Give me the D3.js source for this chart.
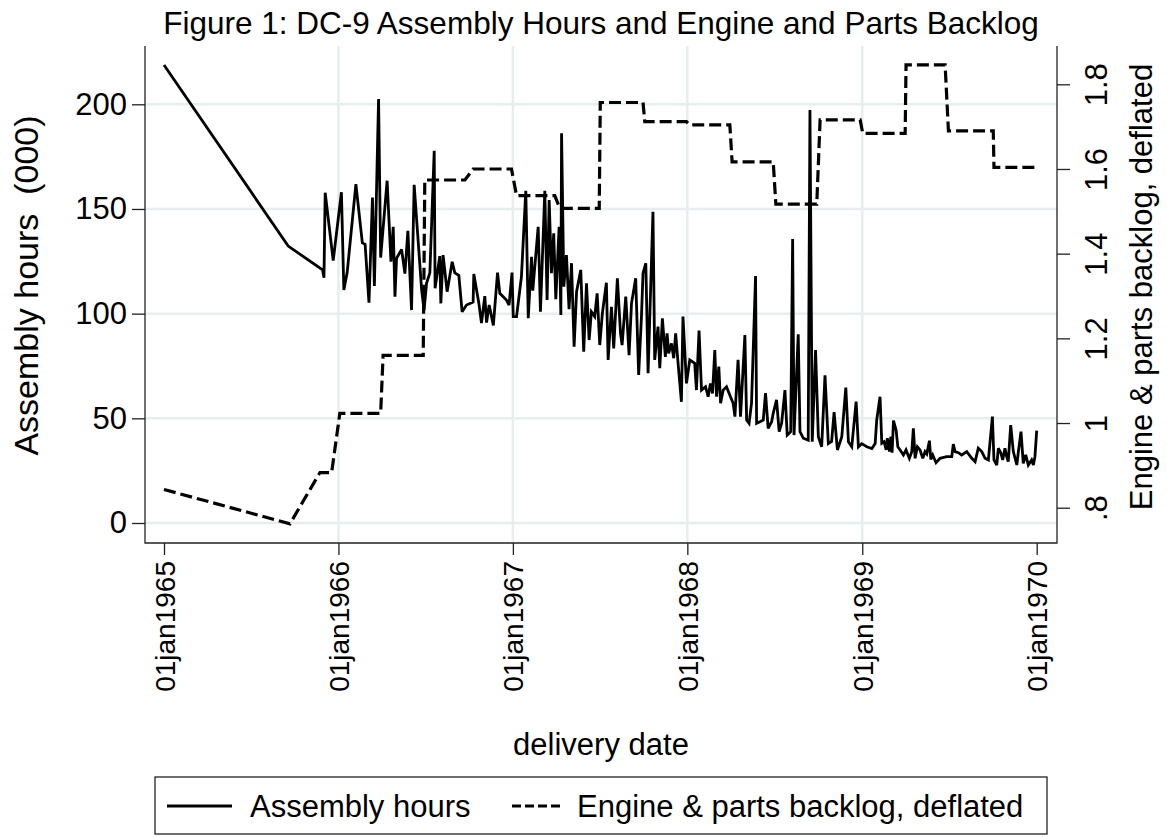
<!DOCTYPE html>
<html>
<head>
<meta charset="utf-8">
<script src="https://cdn.jsdelivr.net/npm/d3@7"></script>
<style>
  body { margin: 0; background: #fff; }
  svg text { font-family: "Liberation Sans", Arial, sans-serif; fill: #000; }
</style>
</head>
<body>
<div id="plot"></div>
<script>

// delivery date (decimal year) and assembly hours (000) per aircraft
const asmYear = [
  1965.000, 1965.712, 1965.909, 1965.917, 1965.924, 1965.970, 1966.017, 1966.031, 1966.050, 1966.100,
  1966.137, 1966.153, 1966.175, 1966.195, 1966.206, 1966.230, 1966.242, 1966.279, 1966.301, 1966.314,
  1966.324, 1966.333, 1966.362, 1966.381, 1966.398, 1966.419, 1966.434, 1966.477, 1966.491, 1966.505,
  1966.524, 1966.549, 1966.554, 1966.581, 1966.587, 1966.600, 1966.623, 1966.652, 1966.667, 1966.690,
  1966.709, 1966.734, 1966.772, 1966.776, 1966.805, 1966.820, 1966.839, 1966.849, 1966.864, 1966.888,
  1966.912, 1966.925, 1966.963, 1966.978, 1966.995, 1967.002, 1967.021, 1967.049, 1967.074, 1967.088,
  1967.107, 1967.114, 1967.145, 1967.158, 1967.183, 1967.196, 1967.208, 1967.221, 1967.234, 1967.246,
  1967.265, 1967.275, 1967.279, 1967.292, 1967.307, 1967.322, 1967.336, 1967.351, 1967.365, 1967.389,
  1967.406, 1967.422, 1967.437, 1967.450, 1967.469, 1967.483, 1967.498, 1967.513, 1967.536, 1967.546,
  1967.565, 1967.578, 1967.599, 1967.617, 1967.626, 1967.647, 1967.666, 1967.680, 1967.704, 1967.721,
  1967.737, 1967.746, 1967.762, 1967.775, 1967.803, 1967.813, 1967.832, 1967.842, 1967.857, 1967.874,
  1967.884, 1967.893, 1967.909, 1967.922, 1967.933, 1967.947, 1967.966, 1967.975, 1967.995, 1968.014,
  1968.042, 1968.052, 1968.067, 1968.081, 1968.104, 1968.119, 1968.132, 1968.144, 1968.157, 1968.167,
  1968.180, 1968.190, 1968.205, 1968.224, 1968.239, 1968.262, 1968.272, 1968.290, 1968.304, 1968.329,
  1968.339, 1968.353, 1968.367, 1968.390, 1968.396, 1968.415, 1968.434, 1968.447, 1968.462, 1968.482,
  1968.491, 1968.510, 1968.525, 1968.539, 1968.558, 1968.571, 1968.591, 1968.602, 1968.610, 1968.634,
  1968.644, 1968.663, 1968.691, 1968.701, 1968.714, 1968.733, 1968.749, 1968.768, 1968.787, 1968.806,
  1968.825, 1968.839, 1968.858, 1968.883, 1968.906, 1968.921, 1968.940, 1968.965, 1968.978, 1968.997,
  1969.026, 1969.055, 1969.074, 1969.083, 1969.102, 1969.112, 1969.125, 1969.137, 1969.144, 1969.156,
  1969.164, 1969.171, 1969.179, 1969.194, 1969.204, 1969.217, 1969.236, 1969.251, 1969.270, 1969.284,
  1969.293, 1969.303, 1969.316, 1969.331, 1969.347, 1969.360, 1969.370, 1969.385, 1969.393, 1969.404,
  1969.423, 1969.446, 1969.484, 1969.513, 1969.522, 1969.532, 1969.551, 1969.570, 1969.599, 1969.628,
  1969.647, 1969.665, 1969.685, 1969.704, 1969.723, 1969.746, 1969.755, 1969.771, 1969.780, 1969.794,
  1969.805, 1969.818, 1969.828, 1969.837, 1969.851, 1969.866, 1969.886, 1969.895, 1969.910, 1969.923,
  1969.937, 1969.952, 1969.971, 1969.981, 1969.990, 1970.000
];

const asmHours = [
  218.8, 132.3, 120.9, 117.2, 157.8, 125.3, 158.0, 111.3, 119.6, 161.9,
  133.8, 133.1, 105.2, 155.5, 113.2, 202.5, 126.8, 163.5, 124.8, 141.5,
  108.1, 126.4, 130.7, 119.1, 139.6, 101.7, 161.5, 111.3, 101.7, 114.5,
  119.5, 177.8, 112.1, 127.5, 104.9, 128.0, 110.5, 124.8, 119.5, 118.3,
  100.9, 104.1, 105.5, 118.9, 104.9, 95.5, 108.4, 95.7, 104.1, 94.4,
  119.6, 109.7, 106.5, 104.1, 119.6, 98.6, 98.6, 117.7, 158.7, 97.8,
  127.2, 111.0, 141.5, 100.9, 158.7, 106.5, 154.3, 119.3, 138.4, 106.9,
  141.5, 99.4, 186.2, 112.9, 128.0, 102.1, 124.1, 84.2, 110.5, 120.9,
  81.8, 114.5, 87.4, 100.9, 98.6, 109.7, 85.0, 100.2, 114.8, 77.9,
  103.3, 83.4, 116.9, 90.6, 85.0, 108.1, 80.2, 104.9, 116.9, 70.7,
  98.6, 119.3, 124.1, 71.5, 148.7, 77.9, 93.8, 73.9, 97.8, 79.4,
  90.6, 81.0, 85.8, 78.7, 90.6, 76.3, 57.9, 98.6, 66.7, 77.9,
  76.3, 63.5, 91.9, 63.5, 65.1, 60.3, 66.7, 61.9, 82.6, 60.3,
  74.7, 57.2, 63.5, 65.1, 61.9, 57.2, 50.8, 77.9, 50.8, 89.8,
  49.2, 47.6, 57.2, 118.0, 47.6, 48.4, 49.2, 62.0, 45.2, 48.4,
  52.4, 58.8, 43.6, 47.6, 63.5, 42.0, 43.6, 135.7, 42.0, 90.1,
  43.6, 40.5, 39.6, 197.3, 38.8, 82.6, 41.2, 36.4, 70.5, 38.0,
  39.0, 53.0, 34.9, 41.2, 64.7, 38.8, 36.4, 58.0, 36.4, 37.9,
  36.4, 35.6, 38.0, 49.2, 60.3, 38.1, 38.8, 34.9, 40.5, 34.1,
  41.2, 33.6, 48.9, 44.4, 36.4, 34.9, 32.5, 34.9, 30.9, 34.1,
  45.2, 30.9, 36.4, 34.9, 30.9, 34.1, 33.0, 39.3, 30.4, 32.5,
  28.8, 30.9, 31.7, 31.7, 37.7, 34.1, 33.6, 32.5, 34.1, 30.9,
  29.3, 35.7, 34.1, 30.9, 30.1, 50.8, 30.1, 27.7, 35.7, 33.6,
  30.1, 35.7, 31.7, 29.3, 46.8, 34.1, 27.7, 34.1, 43.6, 28.5,
  32.5, 27.7, 30.1, 27.7, 31.7, 44.1
];

// engine & parts backlog, deflated (quarterly steps, corner points)
const backlogYear = [
  1965.000, 1965.722, 1965.894, 1965.961, 1966.008, 1966.242, 1966.256, 1966.486, 1966.495, 1966.725,
  1966.772, 1966.992, 1967.021, 1967.240, 1967.269, 1967.495, 1967.501, 1967.746, 1967.756, 1967.995,
  1968.014, 1968.243, 1968.256, 1968.491, 1968.506, 1968.740, 1968.759, 1968.988, 1969.003, 1969.246,
  1969.251, 1969.475, 1969.494, 1969.751, 1969.755, 1970.000
];

const backlogValue = [
  0.843, 0.762, 0.883, 0.883, 1.023, 1.023, 1.160, 1.160, 1.574, 1.574,
  1.600, 1.600, 1.537, 1.537, 1.507, 1.507, 1.757, 1.757, 1.712, 1.712,
  1.704, 1.704, 1.617, 1.617, 1.517, 1.517, 1.716, 1.716, 1.684, 1.684,
  1.846, 1.846, 1.690, 1.690, 1.604, 1.604
];

const yearTicks = [1965, 1966, 1967, 1968, 1969, 1970];
const gridYears = [1966, 1967, 1968, 1969];
const hoursTicks = [0, 50, 100, 150, 200];
const backlogTicks = [0.8, 1, 1.2, 1.4, 1.6, 1.8];
const backlogLabels = [".8", "1", "1.2", "1.4", "1.6", "1.8"];

const w = 1167, h = 837;
const margin = {top: 46, left: 145, right: 110, bottom: 294};
const innerWidth = w - margin.left - margin.right;
const innerHeight = h - margin.top - margin.bottom;

// decimal year -> Date
function yearToDate(y) {
  const y0 = Math.floor(y);
  const t0 = Date.UTC(y0, 0, 1), t1 = Date.UTC(y0 + 1, 0, 1);
  return new Date(t0 + (y - y0) * (t1 - t0));
}

const asmData = asmYear.map((d, i) => ({date: yearToDate(d), value: asmHours[i]}));
const backlogData = backlogYear.map((d, i) => ({date: yearToDate(d), value: backlogValue[i]}));

const xScale = d3.scaleUtc()
  .domain([yearToDate(1965), yearToDate(1970)])
  .range([19, 891.7]);

const yScale = d3.scaleLinear()
  .domain([0, 200])
  .range([477, 58.3]);

const bScale = d3.scaleLinear()
  .domain([0.8, 1.8])
  .range([461.7, 38.3]);

const gridColor = "#e6eef0";
const axisColor = "#222";

const svg = d3.select("div#plot")
  .append("svg")
  .attr("width", w)
  .attr("height", h);

svg.append("rect")
  .attr("width", w)
  .attr("height", h)
  .attr("fill", "#fff");

// title
svg.append("text")
  .attr("x", 601)
  .attr("y", 34)
  .attr("text-anchor", "middle")
  .attr("font-size", 31.5)
  .text("Figure 1: DC-9 Assembly Hours and Engine and Parts Backlog");

const plot = svg.append("g")
  .attr("id", "plotarea")
  .attr("transform", `translate( ${margin.left}, ${margin.top} )`);

// gridlines
plot.append("g")
  .selectAll("line")
  .data(hoursTicks)
  .enter()
  .append("line")
  .attr("x1", 0)
  .attr("x2", innerWidth)
  .attr("y1", d => yScale(d))
  .attr("y2", d => yScale(d))
  .attr("stroke", gridColor)
  .attr("stroke-width", 2.5);

plot.append("g")
  .selectAll("line")
  .data(gridYears)
  .enter()
  .append("line")
  .attr("x1", d => xScale(yearToDate(d)))
  .attr("x2", d => xScale(yearToDate(d)))
  .attr("y1", 0)
  .attr("y2", innerHeight)
  .attr("stroke", gridColor)
  .attr("stroke-width", 2.5);

// x-axis
const xAxis = d3.axisBottom(xScale)
  .tickValues(yearTicks.map(yearToDate))
  .tickSize(12)
  .tickSizeOuter(0)
  .tickFormat(d => "01jan" + d.getUTCFullYear());

plot.append("g")
  .attr("id", "xaxis")
  .attr("transform", `translate(0, ${innerHeight})`)
  .call(xAxis)
  .call(g => g.select(".domain").remove())
  .call(g => g.selectAll("line").attr("stroke", axisColor).attr("stroke-width", 1.3))
  .selectAll("text")
  .attr("font-size", 28)
  .attr("font-family", null)
  .attr("text-anchor", "end")
  .attr("x", -18)
  .attr("y", 0)
  .attr("dy", "0.36em")
  .attr("transform", "rotate(-90)");

// left y-axis
const yAxis = d3.axisLeft(yScale)
  .tickValues(hoursTicks)
  .tickSize(13)
  .tickSizeOuter(0)
  .tickPadding(5);

plot.append("g")
  .attr("id", "yaxis")
  .call(yAxis)
  .call(g => g.select(".domain").remove())
  .call(g => g.selectAll("line").attr("stroke", axisColor).attr("stroke-width", 1.3))
  .selectAll("text")
  .attr("font-size", 31)
  .attr("font-family", null);

// right y-axis
const bAxis = d3.axisRight(bScale)
  .tickValues(backlogTicks)
  .tickSize(13)
  .tickSizeOuter(0)
  .tickFormat((d, i) => backlogLabels[i]);

plot.append("g")
  .attr("id", "baxis")
  .attr("transform", `translate(${innerWidth}, 0)`)
  .call(bAxis)
  .call(g => g.select(".domain").remove())
  .call(g => g.selectAll("line").attr("stroke", axisColor).attr("stroke-width", 1.3))
  .selectAll("text")
  .attr("font-size", 31)
  .attr("font-family", null)
  .attr("text-anchor", "middle")
  .attr("x", 0)
  .attr("dy", 0)
  .attr("transform", "translate(50, 0) rotate(-90)");

// axis lines
plot.append("path")
  .attr("d", `M0,0 V${innerHeight} H${innerWidth} V0`)
  .attr("fill", "none")
  .attr("stroke", axisColor)
  .attr("stroke-width", 1.3);

// backlog line (dashed)
plot.append("path")
  .datum(backlogData)
  .attr("d", d3.line().x(d => xScale(d.date)).y(d => bScale(d.value)))
  .attr("fill", "none")
  .attr("stroke", "#000")
  .attr("stroke-width", 3.2)
  .attr("stroke-dasharray", "12,5");

// assembly hours line
plot.append("path")
  .datum(asmData)
  .attr("d", d3.line().x(d => xScale(d.date)).y(d => yScale(d.value)))
  .attr("fill", "none")
  .attr("stroke", "#000")
  .attr("stroke-width", 2.8)
  .attr("stroke-linejoin", "miter")
  .attr("stroke-miterlimit", 3);

// axis titles
svg.append("text")
  .attr("transform", "translate(37.5, 285.5) rotate(-90)")
  .attr("text-anchor", "middle")
  .attr("font-size", 34)
  .style("white-space", "pre")
  .text("Assembly hours  (000)");

svg.append("text")
  .attr("transform", "translate(1152, 287) rotate(-90)")
  .attr("text-anchor", "middle")
  .attr("font-size", 31)
  .text("Engine & parts backlog, deflated");

svg.append("text")
  .attr("x", 601)
  .attr("y", 755)
  .attr("text-anchor", "middle")
  .attr("font-size", 31)
  .text("delivery date");

// legend
const legend = svg.append("g").attr("id", "legend");

legend.append("rect")
  .attr("x", 155)
  .attr("y", 777)
  .attr("width", 892)
  .attr("height", 57)
  .attr("fill", "#fff")
  .attr("stroke", axisColor)
  .attr("stroke-width", 1.3);

legend.append("line")
  .attr("x1", 167).attr("x2", 232)
  .attr("y1", 806).attr("y2", 806)
  .attr("stroke", "#000")
  .attr("stroke-width", 2.8);

legend.append("text")
  .attr("x", 250)
  .attr("y", 817)
  .attr("font-size", 31)
  .text("Assembly hours");

legend.append("line")
  .attr("x1", 512).attr("x2", 561)
  .attr("y1", 806).attr("y2", 806)
  .attr("stroke", "#000")
  .attr("stroke-width", 3.2)
  .attr("stroke-dasharray", "9,4");

legend.append("text")
  .attr("x", 577)
  .attr("y", 817)
  .attr("font-size", 31)
  .text("Engine & parts backlog, deflated");

</script>
</body>
</html>
